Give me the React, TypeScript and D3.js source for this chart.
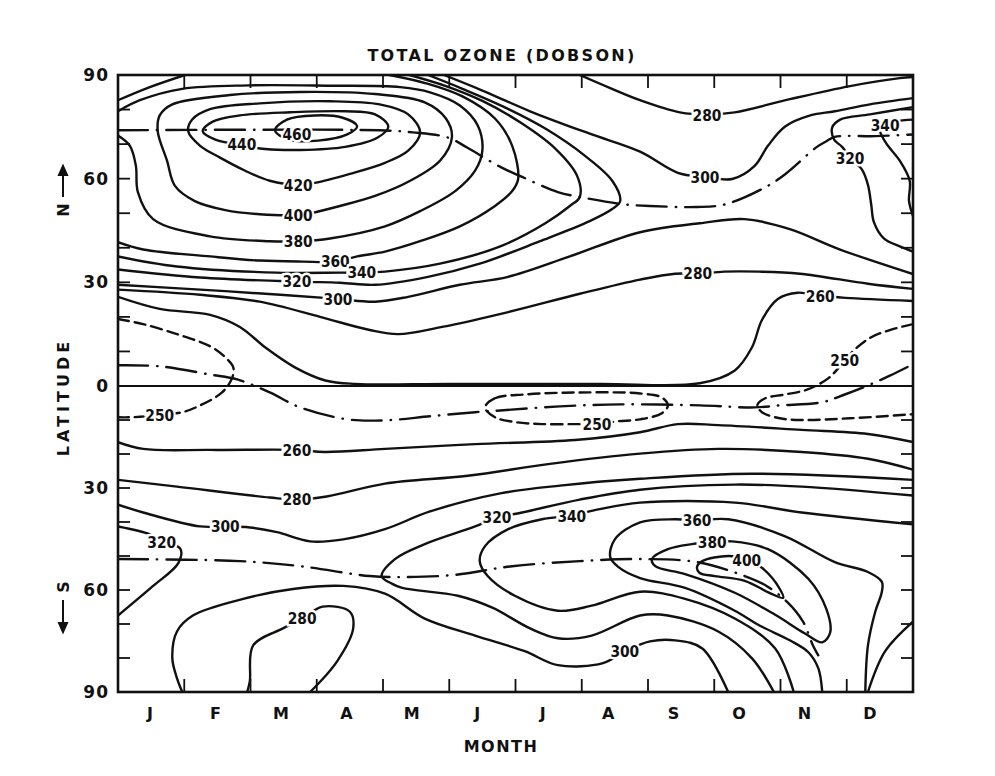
import React from 'react';
import * as d3 from 'd3';

type Pt = [number, number]; // [month position 0..12, latitude]

const monthLabels = ['J', 'F', 'M', 'A', 'M', 'J', 'J', 'A', 'S', 'O', 'N', 'D'];
const latTicks = [90, 60, 30, 0, -30, -60, -90];

// ---- Northern hemisphere contours ----
const c460: Pt[] = [[2.37,74],[2.55,77.1],[2.97,78.3],[3.38,77.7],[3.61,75.2],[3.46,72.8],[3.02,71],[2.57,71.3]];
const c440: Pt[] = [[1.28,73.7],[1.43,76.5],[1.84,78.3],[2.6,79.2],[3.43,79.5],[3.88,78.6],[4.08,75.1],[3.92,71.9],[3.43,69.2],[2.75,68.3],[2.22,68.6],[1.84,69.8],[1.47,71.3]];
const c420: Pt[] = [[1.06,73.7],[1.12,77.1],[1.39,80.1],[2.14,81.8],[3.2,82.4],[3.95,81.5],[4.38,78.6],[4.56,73.4],[4.38,68.1],[4.03,64.6],[3.5,61.4],[2.97,58.8],[2.72,58.2],[2.29,59.4],[1.92,62.3],[1.54,66.1],[1.24,69.5]];
const c400: Pt[] = [[0.6,73.7],[0.63,78.3],[0.82,81.5],[1.69,84.2],[2.75,85.1],[3.88,84.5],[4.63,82.1],[4.95,77.4],[5.04,71.9],[4.86,65.2],[4.41,59.4],[3.88,55],[3.35,52.1],[2.9,50],[2.72,49.5],[2.14,49.7],[1.62,50.9],[1.16,53.5],[0.86,57.9],[0.74,65.2]];
const c380: Pt[] = [[0,72.5],[0.18,69.5],[0.27,63.7],[0.3,56.1],[0.53,48.3],[1.39,43.3],[2.29,41.9],[2.72,41.9],[3.2,42.7],[4.03,46.2],[4.56,50.6],[5.09,56.4],[5.39,62.3],[5.5,68.1],[5.43,75.4],[5.16,81.2],[4.71,85],[4.26,86.5],[3.2,86.9],[1.99,87],[0.97,86],[0.33,82.7],[0,79.5]];
const c360corner: Pt[] = [[0,82.7],[0.48,86.5],[1.01,90]];
const c360: Pt[] = [[0,41.6],[0.38,39.5],[1.39,37.5],[2.14,36.3],[2.79,36],[3.28,36],[3.61,37.5],[4.03,38.9],[4.56,41.9],[5.16,46.2],[5.69,52.1],[5.95,56.4],[6.04,59.9],[5.95,69.5],[5.69,77.4],[5.2,83.8],[4.65,87.6],[4.1,90]];
const c340: Pt[] = [[0,37.5],[0.89,34.6],[2.4,32.8],[3.38,32.8],[3.68,32.8],[4.03,33.1],[4.86,35.4],[5.77,40.4],[6.45,47.1],[6.82,52.1],[6.97,54.7],[6.93,60.8],[6.6,68.7],[6.07,76.3],[5.5,82.5],[4.95,86.8],[4.4,90]];
const c320: Pt[] = [[0,33.7],[1.24,31.4],[2.7,30.2],[3.35,29.9],[3.88,29.3],[4.68,31.6],[5.46,35.4],[6.37,41.9],[7.12,47.7],[7.46,51.2],[7.58,53.5],[7.46,59.4],[7.05,66.6],[6.45,74.5],[5.8,81],[5.2,86],[4.68,90]];
const c300up: Pt[] = [[4.92,90],[5.5,85.5],[6.22,79.5],[7.12,73],[7.88,67.8],[8.45,61.7],[8.86,60.5],[9.27,59.9],[9.61,63.7],[9.81,69.5],[10.07,75.1],[10.45,78.3],[10.82,79.5],[11.35,81.5],[12,83.3]];
const c300lo: Pt[] = [[0,29.3],[1.24,27.9],[2.45,26.4],[3.32,25.2],[3.88,24.4],[4.38,25.8],[5.16,29.3],[5.89,31.6],[6.82,37.5],[7.88,44.5],[8.78,47.1],[9.46,48.3],[10.14,45.4],[10.9,39.5],[12,32.4]];
const c280up: Pt[] = [[6.97,90],[7.43,86.2],[7.88,82.7],[8.48,79.2],[8.89,78.6],[9.31,79.2],[10.14,83],[11.05,86.8],[11.8,89.1],[12,89.4]];
const c280lo: Pt[] = [[0,27.9],[1.24,26.4],[2.14,24.4],[3.05,20],[3.8,16.2],[4.23,15],[4.89,17.1],[5.89,21.4],[6.97,26.7],[7.88,30.8],[8.41,32.5],[8.75,32.5],[9.15,33.1],[9.68,33.1],[10.29,32.5],[11.32,29.6],[12,28.1]];
const c320dec: Pt[] = [[12,80.7],[11.35,78.6],[10.9,77.1],[10.78,74.8],[10.81,71.3],[10.93,69.2],[11.05,66.1],[11.23,62.6],[11.32,58.2],[11.37,52.4],[11.41,47.4],[11.56,42.7],[11.8,40.4],[12,38.9]];
const c340dec: Pt[] = [[12,77.1],[11.73,76.5],[11.5,74.5],[11.59,70.4],[11.8,65.2],[11.95,59.4],[11.94,53.5],[12,49.2]];
const c260n: Pt[] = [[0,25.8],[0.63,22.3],[1.39,20.6],[1.84,17.1],[2.22,11.2],[2.67,5.4],[3.13,1.6],[3.58,0.6],[5.01,0.6],[7.28,0.6],[8.78,0.8],[9.31,4.5],[9.57,11.2],[9.72,19.1],[9.96,25.2],[10.26,27],[10.6,26.1],[10.98,25.5],[12,24.6]];

// ---- 250 (dashed) contours ----
const c250jan: Pt[] = [[0,19.4],[0.38,17.9],[0.89,15],[1.39,11.5],[1.62,8.3],[1.74,5.4],[1.72,2.2],[1.57,-1.9],[1.24,-5.7],[0.97,-7.7],[0.63,-8.6],[0.18,-9.2],[0,-9.2]];
const c250jul: Pt[] = [[5.54,-6.3],[5.69,-3.6],[6.14,-2.5],[6.97,-1.9],[7.88,-2.2],[8.21,-3.4],[8.3,-5.7],[8.21,-8],[7.88,-9.8],[7.53,-10.4],[7.23,-11.2],[6.9,-11.2],[6.4,-11.2],[5.99,-10.6],[5.69,-9.2]];
const c250oct: Pt[] = [[12,17.9],[11.65,16.2],[11.35,13.9],[11.08,9.8],[10.87,5.1],[10.72,2.2],[10.41,-1],[10.07,-2.5],[9.77,-3.6],[9.65,-5.7],[9.72,-7.7],[9.99,-9.5],[10.32,-10],[11.05,-9.5],[12,-8.3]];

// ---- Southern hemisphere contours ----
const c260s: Pt[] = [[0,-16.5],[0.38,-18.5],[1.39,-18.8],[2.7,-18.8],[3.12,-19.4],[4.03,-18.5],[5.39,-17.1],[6.9,-15.9],[7.88,-13.6],[8.45,-11.2],[9.06,-11.5],[10.32,-12.9],[11.32,-14.1],[12,-16.5]];
const c280s: Pt[] = [[0,-27.6],[0.89,-29.6],[2.29,-32.8],[2.7,-33.4],[3.15,-32.5],[4.03,-28.7],[5.28,-26.4],[6.52,-22.9],[7.88,-19.9],[9.06,-18.5],[10.32,-19.4],[11.32,-21.4],[12,-24.6]];
const c300s: Pt[] = [[0,-34.9],[0.38,-37.2],[1.24,-41.3],[1.62,-41.3],[1.99,-41.6],[2.4,-43],[2.9,-45.7],[3.4,-45.1],[4.03,-42.1],[4.71,-36.9],[5.77,-31.6],[6.67,-29.3],[7.88,-27.3],[9.57,-25.8],[12,-27.6]];
const c320jan: Pt[] = [[0,-41.3],[0.48,-43.6],[0.66,-45.7],[0.94,-47.8],[0.91,-52.1],[0.53,-58.8],[0,-67.5]];
const c320s: Pt[] = [[12,-32.2],[10.32,-29.6],[9.31,-29],[7.88,-30.5],[6.97,-33.4],[6.1,-37.2],[5.72,-38.7],[5.39,-41.3],[4.63,-46.5],[4.18,-50.9],[3.98,-55.9],[4.14,-58.2],[4.29,-59.4],[5.13,-61.7],[5.65,-65.2],[6.22,-71.3],[6.64,-74.2],[7.15,-73.4],[7.88,-67.5],[8.3,-67.5],[9.06,-72.2],[9.57,-80.1],[9.9,-90]];
const c340s: Pt[] = [[12,-40.7],[10.32,-37.2],[9.31,-34.3],[7.88,-34.3],[7.25,-36.3],[6.85,-38.1],[6.4,-39.2],[5.89,-42.1],[5.54,-47.1],[5.46,-51.5],[5.58,-55.9],[5.99,-61.7],[6.64,-66.1],[7.15,-64.6],[7.88,-60.5],[8.56,-62.6],[9.31,-68.4],[9.92,-77.2],[10.2,-90]];
const c360s: Pt[] = [[10.63,-90],[10.57,-83],[10.42,-78.3],[10.14,-74.8],[9.69,-70.5],[9.31,-66.1],[8.56,-59.4],[7.88,-56.5],[7.55,-53.2],[7.43,-50.3],[7.5,-45.1],[7.88,-40.1],[8.41,-39.2],[8.74,-39.5],[9.21,-39.2],[10.07,-44.2],[10.82,-51.8],[11.32,-54.7],[11.53,-57.6],[11.53,-60.5],[11.43,-66.4],[11.32,-76.3],[11.28,-90]];
const c380s: Pt[] = [[8.06,-50.9],[8.3,-48],[8.66,-46.5],[8.97,-45.9],[9.27,-45.7],[9.81,-48],[10.42,-56.7],[10.69,-65.5],[10.75,-72.5],[10.63,-75.4],[10.37,-72.8],[9.92,-67.3],[9.31,-60.8],[8.56,-55.3],[8.11,-53]];
const c400s: Pt[] = [[8.74,-53.2],[8.82,-51.5],[9.21,-50],[9.49,-50.9],[9.74,-53.8],[9.99,-59.7],[10.04,-62.3],[9.84,-60.9],[9.46,-57.3],[9.01,-55.9],[8.78,-55]];
const c300pole: Pt[] = [[0.97,-90],[0.89,-85.9],[0.82,-80.1],[0.89,-72.2],[1.13,-67.5],[1.89,-62.6],[2.64,-59.7],[3.4,-58.8],[4.03,-61.1],[4.63,-68.4],[5.39,-73.4],[6.14,-78],[6.64,-82.1],[7.32,-81.5],[7.65,-78],[8.03,-75.1],[8.41,-74.8],[8.82,-77.2],[9.21,-90]];
const c280pole: Pt[] = [[1.95,-90],[1.99,-86.8],[2.04,-76.3],[2.49,-71.3],[2.78,-68.4],[3.09,-64.9],[3.5,-66.4],[3.55,-71.3],[3.31,-80.9],[2.9,-90]];
const c340dec2: Pt[] = [[11.32,-90],[11.58,-78],[12,-69.3]];

// ---- ridge / trough lines (dash-dot) ----
const ridgeN: Pt[] = [[0,74],[3.95,74],[4.45,73.4],[4.98,71.9],[5.27,69],[5.77,63.4],[6.1,60.5],[6.64,56.1],[6.97,54.7],[7.62,52.6],[8.03,52.1],[8.74,51.8],[9.17,52.6],[9.77,57.5],[10.07,61.3],[10.55,69.2],[10.7,70.9],[10.82,72.1],[11.43,72.3],[12,72.8]];
const troughEq: Pt[] = [[0,6],[0.63,5.7],[1.39,3.3],[1.8,1.9],[2.29,-1.9],[2.75,-6.3],[3.46,-9.8],[4.03,-10.1],[4.71,-8.9],[5.39,-7.7],[5.77,-7.2],[6.67,-6],[7.58,-5.4],[8.78,-5.7],[9.61,-6.3],[9.99,-5.7],[10.62,-4.8],[10.97,-2.5],[11.35,0.4],[11.65,3],[12,6.3]];
const ridgeS: Pt[] = [[0,-50.9],[1.84,-51.5],[2.75,-53],[3.8,-55.9],[4.26,-56.2],[5.06,-55.6],[5.95,-53],[6.97,-51.5],[7.88,-50.9],[8.74,-51.8],[9.46,-55.9],[9.79,-58.8],[10.1,-63.5],[10.34,-69.3],[10.49,-76.3],[10.57,-79.2]];

type Line = { pts: Pt[]; closed?: boolean; kind: 'solid' | 'dash' | 'dashdot' };
const lines: Line[] = [
  { pts: c460, closed: true, kind: 'solid' },
  { pts: c440, closed: true, kind: 'solid' },
  { pts: c420, closed: true, kind: 'solid' },
  { pts: c400, closed: true, kind: 'solid' },
  { pts: c380, kind: 'solid' },
  { pts: c360corner, kind: 'solid' },
  { pts: c360, kind: 'solid' },
  { pts: c340, kind: 'solid' },
  { pts: c320, kind: 'solid' },
  { pts: c300up, kind: 'solid' },
  { pts: c300lo, kind: 'solid' },
  { pts: c280up, kind: 'solid' },
  { pts: c280lo, kind: 'solid' },
  { pts: c320dec, kind: 'solid' },
  { pts: c340dec, kind: 'solid' },
  { pts: c260n, kind: 'solid' },
  { pts: c250jan, kind: 'dash' },
  { pts: c250jul, closed: true, kind: 'dash' },
  { pts: c250oct, kind: 'dash' },
  { pts: c260s, kind: 'solid' },
  { pts: c280s, kind: 'solid' },
  { pts: c300s, kind: 'solid' },
  { pts: c320jan, kind: 'solid' },
  { pts: c320s, kind: 'solid' },
  { pts: c340s, kind: 'solid' },
  { pts: c360s, kind: 'solid' },
  { pts: c380s, closed: true, kind: 'solid' },
  { pts: c400s, closed: true, kind: 'solid' },
  { pts: c300pole, kind: 'solid' },
  { pts: c280pole, kind: 'solid' },
  { pts: c340dec2, kind: 'solid' },
  { pts: ridgeN, kind: 'dashdot' },
  { pts: troughEq, kind: 'dashdot' },
  { pts: ridgeS, kind: 'dashdot' },
];

// contour labels: text and [month position, latitude]
const labelText = ['460','440','420','400','380','360','340','320','300','280','300','320','340','280','260','250','250','250','260','280','300','320','320','340','360','380','400','280','300'];
const labelPos: Pt[] = [[2.7,72.8],[1.87,70.1],[2.72,58.2],[2.72,49.5],[2.72,41.9],[3.28,36],[3.68,32.8],[2.7,30.2],[3.32,25.2],[8.89,78.4],[8.86,60.5],[11.05,65.8],[11.58,75.4],[8.75,32.5],[10.6,26.1],[10.97,7.4],[0.63,-8.6],[7.23,-11.2],[2.7,-18.8],[2.7,-33.4],[1.62,-41.3],[0.66,-46],[5.72,-38.7],[6.85,-38.4],[8.74,-39.5],[8.97,-46],[9.49,-51.2],[2.78,-68.4],[7.65,-78]];

const X0 = 118, X1 = 913, Y0 = 75, Y1 = 692, YEQ = 386;
const FONT = "'DejaVu Sans', 'Liberation Sans', sans-serif";

export default function App() {
  const x = d3.scaleLinear().domain([0, 12]).range([X0, X1]);
  const y = d3.scaleLinear().domain([-90, 0, 90]).range([Y1, YEQ, Y0]);
  const openLine = d3.line<Pt>().x(d => x(d[0])).y(d => y(d[1])).curve(d3.curveCatmullRom.alpha(0.5));
  const closedLine = d3.line<Pt>().x(d => x(d[0])).y(d => y(d[1])).curve(d3.curveCatmullRomClosed.alpha(0.5));
  const labelX = d3.scalePoint<number>().domain(d3.range(12)).range([150, 870]);

  const latMinor = d3.range(-80, 90, 10);
  const monthBounds = d3.range(1, 12);

  return (
    <svg width={995} height={776} style={{ position: 'absolute', left: 0, top: 0, background: '#fff' }} fontFamily={FONT}>
      <defs>
        <clipPath id="plot">
          <rect x={X0} y={Y0} width={X1 - X0} height={Y1 - Y0} />
        </clipPath>
      </defs>
      <rect x={0} y={0} width={995} height={776} fill="#fff" />
      <text x={502} y={61} textAnchor="middle" fontSize={16} fontWeight="bold" letterSpacing={2.3} fill="#111">TOTAL OZONE (DOBSON)</text>

      <g clipPath="url(#plot)" fill="none" stroke="#111" strokeWidth={2.4} strokeLinecap="round" strokeLinejoin="round">
        <line x1={X0} x2={X1} y1={y(0)} y2={y(0)} strokeWidth={2} />
        {lines.map((l, i) => (
          <path key={i}
            d={(l.closed ? closedLine : openLine)(l.pts) || ''}
            strokeDasharray={l.kind === 'dash' ? '11 6' : l.kind === 'dashdot' ? '30 9 0.5 9' : undefined}
          />
        ))}
      </g>

      <g fontSize={16} fontWeight="bold" textAnchor="middle" fill="#111" stroke="#fff" strokeWidth={5} paintOrder="stroke">
        {labelText.map((t, i) => (
          <text key={i} x={x(labelPos[i][0])} y={y(labelPos[i][1])} dy="0.36em" textLength={t.length * 9.6} lengthAdjust="spacingAndGlyphs">{t}</text>
        ))}
      </g>

      {/* frame and ticks */}
      <g stroke="#111" strokeWidth={1.8}>
        {latMinor.map(l => (
          <g key={l}>
            <line x1={X0} x2={X0 + 12} y1={y(l)} y2={y(l)} />
            <line x1={X1} x2={X1 - 12} y1={y(l)} y2={y(l)} />
          </g>
        ))}
        {monthBounds.map(m => (
          <g key={m}>
            <line x1={x(m)} x2={x(m)} y1={Y0} y2={Y0 + 13} />
            <line x1={x(m)} x2={x(m)} y1={Y1} y2={Y1 - 13} />
          </g>
        ))}
      </g>
      <rect x={X0} y={Y0} width={X1 - X0} height={Y1 - Y0} fill="none" stroke="#111" strokeWidth={2.6} />

      <g fontSize={17} fontWeight="bold" fill="#111" textAnchor="end">
        {latTicks.map(l => (
          <text key={l} x={109} y={y(l)} dy="0.36em" letterSpacing={1}>{Math.abs(l)}</text>
        ))}
      </g>
      <g fontSize={16} fontWeight="bold" fill="#111" textAnchor="middle">
        {monthLabels.map((m, i) => (
          <text key={i} x={labelX(i)} y={719}>{m}</text>
        ))}
      </g>
      <text x={501} y={752} textAnchor="middle" fontSize={16} fontWeight="bold" letterSpacing={1.5} fill="#111">MONTH</text>

      <text transform="translate(69,397) rotate(-90)" textAnchor="middle" fontSize={16} fontWeight="bold" letterSpacing={4} fill="#111">LATITUDE</text>
      <text transform="translate(69,210) rotate(-90)" textAnchor="middle" fontSize={16} fontWeight="bold" fill="#111">N</text>
      <g stroke="#111" strokeWidth={2} fill="#111">
        <line x1={63} x2={63} y1={197} y2={172} />
        <path d="M63,166 L59,175 L67,175 Z" />
        <line x1={63} x2={63} y1={600} y2={626} />
        <path d="M63,632 L59,623 L67,623 Z" />
      </g>
      <text transform="translate(69,587) rotate(-90)" textAnchor="middle" fontSize={16} fontWeight="bold" fill="#111">S</text>
    </svg>
  );
}
